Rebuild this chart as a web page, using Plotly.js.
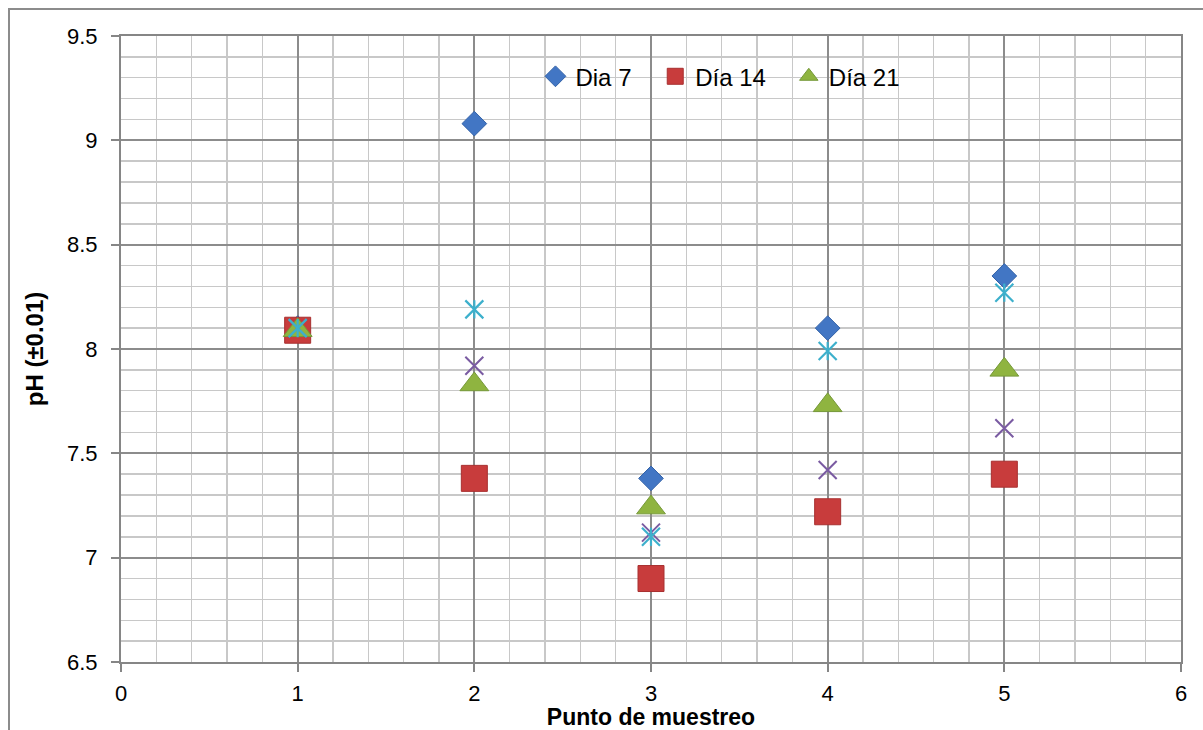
<!DOCTYPE html>
<html>
<head>
<meta charset="utf-8">
<script src="https://cdn.plot.ly/plotly-3.0.1.min.js"></script>
<style>
  html, body { margin: 0; padding: 0; background: #ffffff; }
  #frame { position: absolute; left: 8px; top: 8px; width: 1400px; height: 900px;
           border-left: 2px solid #8c8c8c; border-top: 2px solid #8c8c8c; z-index: 0; }
  #chart { position: absolute; left: 0; top: 0; width: 1203px; height: 730px; z-index: 1; }
</style>
</head>
<body>
<div id="frame"></div>
<div id="chart"></div>
<script>
// Sampling points
const puntos = [1, 2, 3, 4, 5];

// pH series
const dia7  = [8.10, 9.08, 7.38, 8.10, 8.35];
const dia14 = [8.09, 7.38, 6.90, 7.22, 7.40];
const dia21 = [8.09, 7.83, 7.24, 7.73, 7.90];
const serieX    = [8.10, 7.92, 7.12, 7.42, 7.62];   // purple X marker (no legend)
const serieStar = [8.10, 8.19, 7.10, 7.99, 8.27];   // cyan star marker (no legend)

// Axis ticks
const xTicks = [0, 1, 2, 3, 4, 5, 6];
const yTicks = [6.5, 7, 7.5, 8, 8.5, 9, 9.5];
const yTickText = ['6.5', '7', '7.5', '8', '8.5', '9', '9.5'];

const FONT = 'Liberation Sans, Arial, sans-serif';

const traces = [
  {
    x: puntos, y: dia7, type: 'scatter', mode: 'markers', name: 'Dia 7', legend: 'legend',
    marker: { symbol: 'diamond', size: 19, color: '#4276c4', line: { color: '#3463a8', width: 1 } }
  },
  {
    x: puntos, y: dia14, type: 'scatter', mode: 'markers', name: 'Día 14', legend: 'legend2',
    marker: { symbol: 'square', size: 26, color: '#c83c3c', line: { color: '#a83030', width: 1 } }
  },
  {
    x: puntos, y: dia21, type: 'scatter', mode: 'markers', name: 'Día 21', legend: 'legend3',
    marker: { symbol: 'triangle-up', size: 25, color: '#8fb440', line: { color: '#76993a', width: 1 } }
  },
  {
    x: puntos, y: serieX, type: 'scatter', mode: 'markers', showlegend: false, name: 'serie 4',
    marker: { symbol: 'x-thin-open', size: 18, color: '#7a5ba2', line: { color: '#7a5ba2', width: 2 } }
  },
  {
    x: puntos, y: serieStar, type: 'scatter', mode: 'markers', showlegend: false, name: 'serie 5',
    marker: { symbol: 'x-thin-open', size: 18, color: '#3db0cc', line: { color: '#3db0cc', width: 2.2 } }
  },
  {
    x: puntos, y: serieStar, type: 'scatter', mode: 'markers', showlegend: false, name: 'serie 5b',
    marker: { symbol: 'line-ns-open', size: 13, color: '#3db0cc', line: { color: '#3db0cc', width: 2.2 } }
  }
];

function legendAt(xPaper) {
  return {
    orientation: 'h', x: xPaper, xanchor: 'left', y: 0.935, yanchor: 'middle',
    bgcolor: 'rgba(0,0,0,0)', font: { family: FONT, size: 24, color: '#000' },
    itemwidth: 30
  };
}

const layout = {
  width: 1203, height: 730,
  margin: { l: 121, r: 22, t: 36, b: 68 },
  paper_bgcolor: 'rgba(0,0,0,0)',
  plot_bgcolor: '#ffffff',
  font: { family: FONT, size: 22, color: '#000000' },
  showlegend: true,
  legend: legendAt(0.391),
  legend2: legendAt(0.504),
  legend3: legendAt(0.630),
  xaxis: {
    range: [0, 6], tickvals: xTicks, ticktext: xTicks.map(String),
    showgrid: true, gridcolor: '#8c8c8c', gridwidth: 2,
    minor: { dtick: 0.2, showgrid: true, gridcolor: '#c8c8c8', gridwidth: 1.5 },
    showline: true, linecolor: '#868686', linewidth: 2, mirror: true,
    ticks: 'outside', ticklen: 8, tickcolor: '#868686', tickwidth: 2,
    ticklabelstandoff: 3,
    zeroline: false, fixedrange: true,
    tickfont: { family: FONT, size: 22, color: '#000' },
    title: { text: '<b>Punto de muestreo</b>', standoff: 1, font: { family: FONT, size: 23, color: '#000' } }
  },
  yaxis: {
    range: [6.5, 9.5], tickvals: yTicks, ticktext: yTickText,
    showgrid: true, gridcolor: '#8c8c8c', gridwidth: 2,
    minor: { dtick: 0.1, showgrid: true, gridcolor: '#c8c8c8', gridwidth: 1.5 },
    showline: true, linecolor: '#868686', linewidth: 2, mirror: true,
    ticks: 'outside', ticklen: 8, tickcolor: '#868686', tickwidth: 2,
    ticklabelstandoff: 9,
    zeroline: false, fixedrange: true,
    tickfont: { family: FONT, size: 22, color: '#000' },
    title: { text: '<b>pH (±0.01)</b>', standoff: 17, font: { family: FONT, size: 24, color: '#000' } }
  }
};

Plotly.newPlot('chart', traces, layout, { displayModeBar: false, staticPlot: true });
</script>
</body>
</html>
